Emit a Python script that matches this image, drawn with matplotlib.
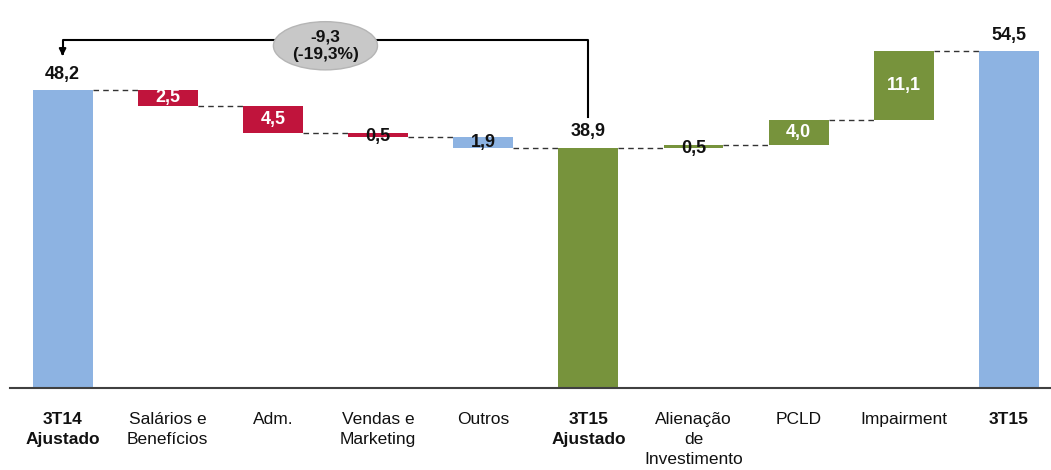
import matplotlib
matplotlib.use('Agg')
import matplotlib.pyplot as plt
from matplotlib.patches import Ellipse

plt.rcParams['font.family'] = ['Liberation Sans Narrow', 'Liberation Sans', 'DejaVu Sans']

# dados (R$ milhões)
categorias = ['3T14\nAjustado', 'Salários e\nBenefícios', 'Adm.', 'Vendas e\nMarketing', 'Outros',
              '3T15\nAjustado', 'Alienação\nde\nInvestimento', 'PCLD', 'Impairment', '3T15']
valores = [48.2, -2.5, -4.5, -0.5, -1.9, 38.9, 0.5, 4.0, 11.1, 54.5]
total = [True, False, False, False, False, True, False, False, False, True]
variacao = -9.3
variacao_pct = -19.3

azul = '#8DB3E2'
vermelho = '#C0143C'
verde = '#77933C'
cores = [azul, vermelho, vermelho, vermelho, azul, verde, verde, verde, verde, azul]

def fmt(v):
    return ('%.1f' % v).replace('.', ',')

fig = plt.figure(figsize=(10.51, 4.70), dpi=100)
ax = fig.add_axes([10/1051, 82/470, 1041/1051, 383/470])

largura = 0.57
nivel = 0
niveis = []
for i, v in enumerate(valores):
    if total[i]:
        base, altura = 0, v
        nivel = v
    else:
        base, altura = nivel + min(0, v), abs(v)
        nivel += v
    niveis.append(nivel)
    ax.bar(i, altura, bottom=base, width=largura, color=cores[i], zorder=2)
    if total[i]:
        ax.text(i, base + altura + 1.2, fmt(v), ha='center', va='bottom',
                fontsize=13, fontweight='bold', color='#111111')
    else:
        cor_txt = 'white' if abs(v) >= 2 else '#111111'
        dy = -0.3 if abs(v) < 1 else 0
        ax.text(i, base + altura / 2 + dy, fmt(abs(v)), ha='center', va='center',
                fontsize=13, fontweight='bold', color=cor_txt, zorder=3)

# linhas tracejadas de ligação
for i in range(len(valores) - 1):
    ax.plot([i + largura / 2, i + 1 - largura / 2], [niveis[i], niveis[i]],
            color='#333333', lw=1, ls=(0, (4, 3)), zorder=1)

# colchete da variação 3T15 Ajustado vs 3T14 Ajustado
y_top = 56.3
ax.plot([5, 5, 0, 0], [valores[5] + 5.0, y_top, y_top, y_top - 1.6], color='black', lw=1.5, zorder=1)
ax.annotate('', xy=(0, y_top - 3.0), xytext=(0, y_top - 1.5),
            arrowprops=dict(arrowstyle='-|>', color='black', lw=1.5, mutation_scale=10))
ax.add_patch(Ellipse((2.5, 55.4), 0.99, 7.8, facecolor='#C8C8C8', edgecolor='#B5B5B5', zorder=3))
ax.text(2.5, 55.4, fmt(variacao) + '\n(' + fmt(variacao_pct) + '%)', ha='center', va='center',
        fontsize=12.5, fontweight='bold', color='#111111', zorder=4, linespacing=1.25)

ax.set_xlim(-0.5, 9.4)
ax.set_ylim(0, 62)
ax.set_xticks(range(len(categorias)))
ax.set_xticklabels(categorias, fontsize=12.5, linespacing=1.45, color='#111111')
for lbl, t in zip(ax.get_xticklabels(), total):
    if t:
        lbl.set_fontweight('bold')
ax.tick_params(axis='x', length=0, pad=17)
ax.set_yticks([])
for s in ['top', 'right', 'left']:
    ax.spines[s].set_visible(False)
ax.spines['bottom'].set_color('#404040')
ax.spines['bottom'].set_linewidth(1.5)

fig.savefig('out.png', dpi=100)
